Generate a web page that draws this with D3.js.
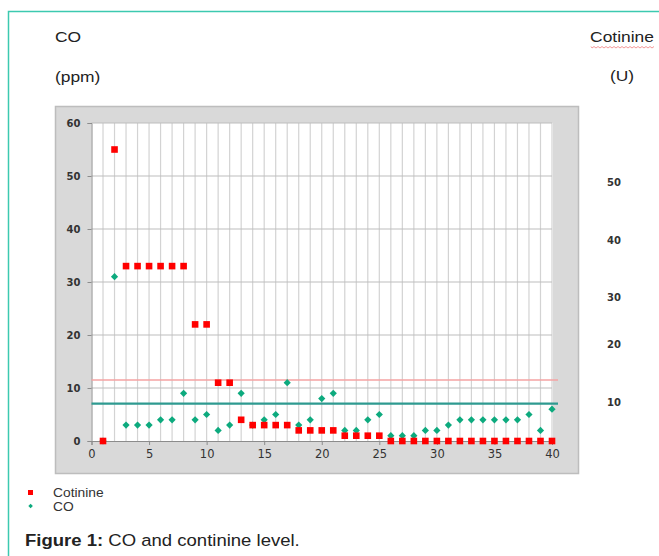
<!DOCTYPE html>
<html><head><meta charset="utf-8">
<script src="https://cdn.jsdelivr.net/npm/d3@7"></script>
<style>
html,body{margin:0;padding:0;background:#fff;}
svg{display:block;font-family:"Liberation Sans",Arial,sans-serif;}
</style></head>
<body>
<svg id="c" width="659" height="556"></svg>
<script>
const subjects = d3.range(1, 41);
const cotinine = [0,55,33,33,33,33,33,33,22,22,11,11,4,3,3,3,3,2,2,2,2,1,1,1,1,0,0,0,0,0,0,0,0,0,0,0,0,0,0,0];
const co = [0,31,3,3,3,4,4,9,4,5,2,3,9,3,4,5,11,3,4,8,9,2,2,4,5,1,1,1,2,2,3,4,4,4,4,4,4,5,2,6];
const yTicks = [0,10,20,30,40,50,60];
const xTicks = [0,5,10,15,20,25,30,35,40];
const rightLabels = [50,40,30,20,10];
const rightLabelPos = [182,240,297,344,402];
const cotinineLimit = 11.5;
const coLimit = 7.05;

const svg = d3.select("#c");
// outer frame
svg.append("path").attr("d","M8.5,556 V11.5 H659").attr("fill","none").attr("stroke","#3cc9b0").attr("stroke-width",1.5);

// chart area
svg.append("rect").attr("x",55.5).attr("y",106.5).attr("width",523).attr("height",367)
  .attr("fill","#d9d9d9").attr("stroke","#bdbdbd").attr("stroke-width",1.5);

const x = d3.scaleLinear().domain([0,40]).range([91.5,552]);
const y = d3.scaleLinear().domain([0,60]).range([441,123]);

svg.append("rect").attr("x",x(0)).attr("y",y(60)).attr("width",x(40)-x(0)+1).attr("height",y(0)-y(60)).attr("fill","#fff");

// vertical gridlines
svg.append("g").selectAll("line").data(d3.range(1,41)).join("line")
  .attr("x1",d=>x(d)).attr("x2",d=>x(d)).attr("y1",y(60)).attr("y2",y(0))
  .attr("stroke","#d3d3d3").attr("stroke-width",1.2);
// horizontal gridlines
svg.append("g").selectAll("line").data(yTicks.slice(1)).join("line")
  .attr("x1",x(0)).attr("x2",x(40)).attr("y1",d=>y(d)).attr("y2",d=>y(d))
  .attr("stroke","#bdbdbd").attr("stroke-width",1.2);

// axes
const yAxis = svg.append("g").attr("transform",`translate(${x(0)},0)`)
  .call(d3.axisLeft(y).tickValues(yTicks).tickSize(4).tickPadding(7));
const xAxis = svg.append("g").attr("transform",`translate(0,${y(0)})`)
  .call(d3.axisBottom(x).tickValues(xTicks).tickSize(4).tickPadding(5));
[yAxis,xAxis].forEach(g=>{
  g.select(".domain").attr("stroke","#8c8c8c");
  g.selectAll(".tick line").attr("stroke","#8c8c8c");
});
yAxis.selectAll("text").attr("font-size",10).attr("font-weight","bold").attr("fill","#333").attr("font-family","'DejaVu Sans',sans-serif");
xAxis.selectAll("text").attr("font-size",11.5).attr("fill","#333").attr("font-family","'DejaVu Sans',sans-serif");

// limit lines
svg.append("line").attr("x1",x(0)).attr("x2",558).attr("y1",y(cotinineLimit)).attr("y2",y(cotinineLimit))
  .attr("stroke","#f4a3a3").attr("stroke-width",1.5);
svg.append("line").attr("x1",x(0)).attr("x2",558).attr("y1",y(coLimit)).attr("y2",y(coLimit))
  .attr("stroke","#2e9a90").attr("stroke-width",2.2);

// CO diamonds
svg.append("g").selectAll("path").data(subjects).join("path")
  .attr("d", d3.symbol().type(d3.symbolSquare).size(26))
  .attr("transform",(d,i)=>`translate(${x(d)},${y(co[i])}) rotate(45)`)
  .attr("fill","#0daa7e");
// cotinine squares
svg.append("g").selectAll("rect").data(subjects).join("rect")
  .attr("x",d=>x(d)-3.3).attr("y",(d,i)=>y(cotinine[i])-3.3).attr("width",6.6).attr("height",6.6)
  .attr("fill","#ff0000");

// titles (text in the reference is slightly stretched horizontally)
const t = (txt,xx,yy,opts={})=>svg.append("text")
  .attr("transform",`translate(${xx},${yy}) scale(${opts.sx||1},1)`).text(txt)
  .attr("font-size",opts.size||13).attr("fill",opts.fill||"#222")
  .attr("text-anchor",opts.anchor||"start").attr("font-weight",opts.weight||"normal")
  .attr("font-family",opts.family||"'Liberation Sans',Arial,sans-serif");
t("CO",55,42,{size:14.5,sx:1.2});
t("(ppm)",55,82,{size:14.5,sx:1.2});
t("Cotinine",622,42,{size:14.5,sx:1.2,anchor:"middle"});
t("(U)",622,81,{size:14.5,sx:1.2,anchor:"middle"});
// spellcheck squiggle under Cotinine
{
  let p = "M591,46.5";
  for(let xx=591; xx<654; xx+=2){ p += ` L${xx+1},${(xx-591)%4===0?48:46.5}`; }
  svg.append("path").attr("d",p).attr("fill","none").attr("stroke","#f08080").attr("stroke-width",0.8);
}
// right labels
svg.append("g").selectAll("text").data(rightLabels).join("text")
  .attr("x",614).attr("y",(d,i)=>rightLabelPos[i]+4).attr("text-anchor","middle")
  .attr("font-size",10).attr("font-weight","bold").attr("fill","#333")
  .attr("font-family","'DejaVu Sans',sans-serif").text(d=>d);

// legend
svg.append("rect").attr("x",28).attr("y",490).attr("width",5).attr("height",5).attr("fill","#ff0000");
svg.append("rect").attr("x",29).attr("y",504.5).attr("width",3.2).attr("height",3.2).attr("fill","#0daa7e")
  .attr("transform","rotate(45,30.6,506.1)");
t("Cotinine",53,497,{size:12,sx:1.15,fill:"#333"});
t("CO",53,511,{size:12,sx:1.15,fill:"#333"});

// caption
const cap = svg.append("text").attr("transform","translate(25,546) scale(1.09,1)").attr("font-size",17).attr("fill","#222")
  .attr("font-family","'Liberation Sans',Arial,sans-serif");
cap.append("tspan").attr("font-weight","bold").text("Figure 1:");
cap.append("tspan").text(" CO and continine level.");
</script>
</body></html>
